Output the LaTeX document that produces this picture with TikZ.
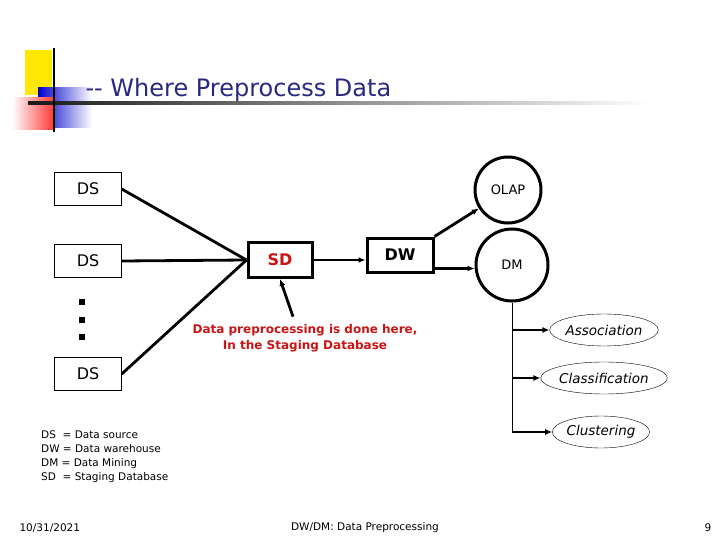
\documentclass[tikz,border=0pt]{standalone}
\usepackage{fontspec}
\setmainfont{DejaVu Sans}
\usetikzlibrary{shapes.geometric,arrows.meta}
\definecolor{navy}{RGB}{40,40,130}
\definecolor{dred}{RGB}{200,20,20}
\begin{document}
\begin{tikzpicture}[x=1pt,y=-1pt,
  dsbox/.style={draw,thin,minimum width=67pt,minimum height=33pt,font=\fontsize{16}{18}\selectfont},
  thickbox/.style={draw,line width=3pt,font=\bfseries\fontsize{16}{18}\selectfont},
  circ/.style={draw,circle,line width=3pt,font=\fontsize{13}{15}\selectfont},
  ell/.style={draw,ellipse,thin,minimum width=86pt,minimum height=32pt,inner sep=0pt,font=\itshape\fontsize{13.5}{15}\selectfont},
  conn/.style={line width=2.8pt},
  arr/.style={conn,-{Latex[length=7pt,width=6pt]}},
  small/.style={font=\fontsize{10.5}{14}\selectfont}]
\useasboundingbox (0,0) rectangle (720,540);
% decoration
\fill[yellow!90!orange] (25,50) rectangle (52,95);
\shade[left color=blue!80!black, right color=white] (38,88) rectangle (92,128);
\shade[left color=white, right color=red!80] (12,98) rectangle (55,130);
\shade[left color=black!90, right color=white] (28,102) rectangle (650,105);
\draw[line width=2pt] (54,48) -- (54,132);
\node[anchor=west,text=navy,font=\fontsize{24}{28}\selectfont] (title) at (82,90) {{-}{-} Where Preprocess Data};
% nodes
\node[dsbox] (ds1) at (88,189) {DS};
\node[dsbox] (ds2) at (88,261) {DS};
\node[dsbox] (ds3) at (88,374) {DS};
\foreach \y in {302,320,337} \fill (79,\y-3) rectangle (85,\y+3);
\node[thickbox,text=dred,minimum width=64pt,minimum height=35pt] (sd) at (280,260) {SD};
\node[thickbox,minimum width=66pt,minimum height=34pt] (dw) at (400,255) {DW};
\node[circ,minimum size=66pt] (olap) at (508,190) {OLAP};
\node[circ,minimum size=72pt] (dm) at (512,265) {DM};
\node[ell] (asso) at (604,330) {Association};
\node[ell] (clas) at (604,378) {Classification};
\node[ell] (clus) at (601,432) {Clustering};
\node[align=center,text=dred,font=\bfseries\fontsize{12}{16}\selectfont] (txt) at (305,338) {Data preprocessing is done here,\\In the Staging Database};
% connectors
\draw[conn] (ds1.east) -- (sd.west);
\draw[conn] (ds2.east) -- (sd.west);
\draw[conn] (ds3.east) -- (sd.west);
\draw[arr] (txt.north) ++(-12,-4) coordinate (tt) (tt) -- (sd.south);
\draw[arr] (sd.east) -- (sd.east -| dw.west);
\draw[arr] (dw.north east) -- (olap);
\draw[arr] (dw.south east) ++(0,-5) coordinate (dwo) (dwo) -- (dm.west |- dwo);
\coordinate (tb) at (512,432);
\draw[thin] (dm.south) -- (tb);
\draw[arr,line width=1.4pt] (dm.south |- asso) -- (asso.west);
\draw[arr,line width=1.4pt] (dm.south |- clas) -- (clas.west);
\draw[arr,line width=1.4pt] (tb) -- (clus.west);
% legend
\node[small,anchor=north west,align=left,inner sep=0pt] (leg) at (41,431) {DS\ \ = Data source\\DW = Data warehouse\\DM = Data Mining\\SD\ \ = Staging Database};
\node[small,anchor=west] (f1) at (16,528) {10/31/2021};
\node[small] (f2) at (365,528) {DW/DM: Data Preprocessing};
\node[small] (f3) at (708,528) {9};
\end{tikzpicture}
\end{document}
